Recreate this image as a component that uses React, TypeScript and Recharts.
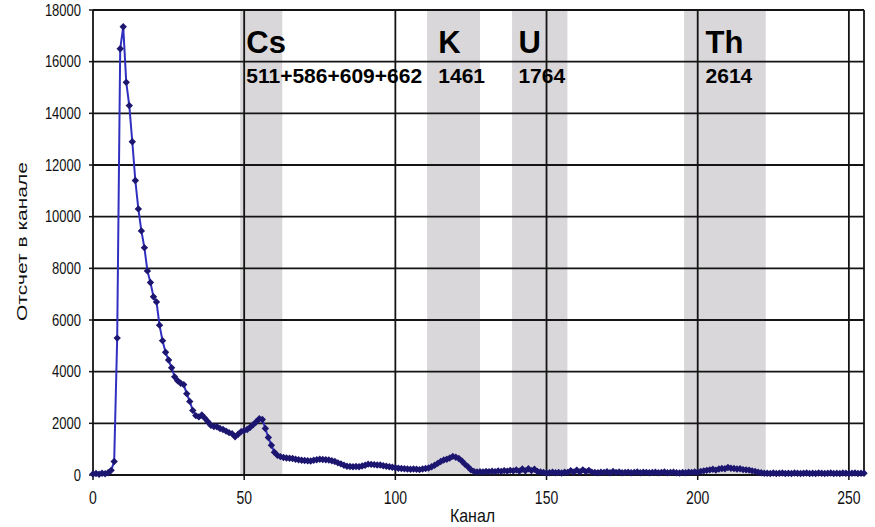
import { LineChart, Line, XAxis, YAxis, ReferenceArea, ReferenceLine } from "recharts";

// counts per channel (channels 0..255)
const counts = [
  40, 60, 30, 70, 50, 90, 180, 520, 5300, 16500,
  17350, 15200, 14300, 12900, 11400, 10300, 9450, 8800, 7900, 7450,
  6900, 6700, 5800, 5200, 4750, 4450, 4150, 3800, 3650, 3550,
  3500, 3150, 2850, 2500, 2300, 2250, 2320, 2200, 2060, 1920,
  1880, 1870, 1800, 1760, 1700, 1640, 1600, 1480, 1580, 1680,
  1720, 1760, 1850, 1950, 2060, 2180, 2150, 1800, 1450, 1150,
  880, 760, 710, 680, 660, 650, 640, 610, 590, 570,
  560, 550, 540, 570, 590, 610, 600, 590, 580, 550,
  520, 470, 430, 380, 340, 330, 320, 330, 320, 350,
  380, 420, 410, 400, 390, 390, 360, 340, 320, 300,
  280, 260, 250, 240, 230, 220, 230, 220, 210, 230,
  250, 270, 320, 380, 450, 520, 580, 610, 660, 720,
  690, 640, 540, 420, 320, 200, 140, 120, 130, 120,
  140, 130, 150, 130, 160, 140, 170, 150, 180, 160,
  200, 150, 230, 160, 240, 170, 220, 140, 120, 100,
  80, 90, 110, 90, 100, 80, 110, 100, 170, 110,
  190, 120, 200, 130, 180, 110, 100, 90, 110, 100,
  130, 90, 140, 100, 120, 90, 100, 110, 90, 100,
  120, 90, 110, 100, 90, 100, 110, 90, 100, 120,
  90, 100, 110, 90, 80, 100, 90, 110, 100, 120,
  110, 140, 160, 180, 200, 220, 190, 230, 250, 240,
  290, 260, 250, 230, 240, 210, 200, 190, 160, 140,
  110, 90, 70, 70, 60, 80, 60, 70, 80, 60,
  70, 60, 80, 70, 60, 70, 80, 60, 70, 60,
  80, 70, 60, 70, 80, 60, 70, 60, 80, 70,
  60, 70, 80, 60, 70, 65,
];

const xTicks = [0, 50, 100, 150, 200, 250];
const yTicks = [0, 2000, 4000, 6000, 8000, 10000, 12000, 14000, 16000, 18000];

// shaded energy windows (in channels) and their captions
const bandNames = ["Cs", "K", "U", "Th"];
const bandEnergies = ["511+586+609+662", "1461", "1764", "2614"];
const bandFrom = [48.7, 110.5, 138.6, 195.5];
const bandTo = [62.6, 128, 156.9, 222.5];
const labelAt = [50.7, 114.2, 140.7, 202.6];

const data = counts.map((v, i) => ({ ch: i, count: v }));

const FONT = "'Liberation Sans', Arial, sans-serif";
const GRID = "#141414";

const Diamond = (props: any) => {
  const { cx, cy, index } = props;
  if (cx == null || cy == null) return null;
  const r = 3.7;
  return (
    <path
      key={index}
      d={`M${cx},${cy - r}L${cx + r},${cy}L${cx},${cy + r}L${cx - r},${cy}Z`}
      fill="#1c1670"
    />
  );
};

const YTick = ({ x, y, payload }: any) => (
  <text
    transform={`translate(${x},${y}) scale(1,1.25)`}
    textAnchor="end"
    y={4.6}
    fontSize={13}
    fontFamily={FONT}
    fill="#111"
  >
    {payload.value}
  </text>
);

const XTick = ({ x, y, payload }: any) => (
  <text
    transform={`translate(${x},${y + 11}) scale(1,1.3)`}
    textAnchor="middle"
    y={10}
    fontSize={14}
    fontFamily={FONT}
    fill="#111"
  >
    {payload.value}
  </text>
);

export default function App() {
  return (
    <div style={{ position: "absolute", left: 0, top: 0, width: 875, height: 527, background: "#fff" }}>
      <LineChart width={875} height={527} data={data} margin={{ top: 10, right: 11, bottom: 0, left: 0 }}>
        {bandFrom.map((f, i) => (
          <ReferenceArea key={"b" + i} x1={f} x2={bandTo[i]} fill="#d9d7d9" fillOpacity={1} stroke="none" />
        ))}
        {xTicks.slice(1).map((t) => (
          <ReferenceLine key={"vx" + t} x={t} stroke={GRID} strokeWidth={1.8} />
        ))}
        {yTicks.slice(1).map((t) => (
          <ReferenceLine key={"hy" + t} y={t} stroke={GRID} strokeWidth={1.8} />
        ))}
        <ReferenceLine x={255} stroke={GRID} strokeWidth={1.8} />
        {labelAt.map((c, i) => (
          <ReferenceLine
            key={"l" + i}
            x={c}
            stroke="none"
            label={{
              content: (p: any) => {
                const vb = p.viewBox || {};
                return (
                  <g fontFamily={FONT} fontWeight="bold" fill="#000">
                    <text x={vb.x} y={vb.y + 43} fontSize={31}>
                      {bandNames[i]}
                    </text>
                    <text x={vb.x} y={vb.y + 73} fontSize={21}>
                      {bandEnergies[i]}
                    </text>
                  </g>
                );
              },
            }}
          />
        ))}
        <XAxis
          dataKey="ch"
          type="number"
          domain={[0, 255]}
          ticks={xTicks}
          height={52}
          tickSize={5}
          tickMargin={0}
          tick={<XTick />}
          axisLine={{ stroke: GRID, strokeWidth: 1.8 }}
          tickLine={{ stroke: GRID, strokeWidth: 1.5 }}
          label={{
            content: (p: any) => {
              const vb = p.viewBox || {};
              return (
                <text
                  transform={`translate(${vb.x + vb.width / 2 - 6},${vb.y + 47}) scale(1,1.2)`}
                  textAnchor="middle"
                  fontSize={16}
                  fontFamily={FONT}
                  fill="#111"
                >
                  Канал
                </text>
              );
            },
          }}
        />
        <YAxis
          type="number"
          domain={[0, 18000]}
          ticks={yTicks}
          width={93}
          tickSize={4}
          tickMargin={8}
          tick={<YTick />}
          axisLine={{ stroke: GRID, strokeWidth: 1.8 }}
          tickLine={{ stroke: GRID, strokeWidth: 1.5 }}
          label={{
            content: (p: any) => {
              const vb = p.viewBox || {};
              return (
                <text
                  transform={`translate(22,${vb.y + vb.height / 2 - 1}) rotate(-90) scale(1.4,1)`}
                  textAnchor="middle"
                  dominantBaseline="central"
                  fontSize={15}
                  fontFamily={FONT}
                  fill="#111"
                >
                  Отсчет в канале
                </text>
              );
            },
          }}
        />
        <Line
          type="linear"
          dataKey="count"
          stroke="#3030c0"
          strokeWidth={2}
          dot={<Diamond />}
          activeDot={false}
          isAnimationActive={false}
        />
      </LineChart>
    </div>
  );
}
